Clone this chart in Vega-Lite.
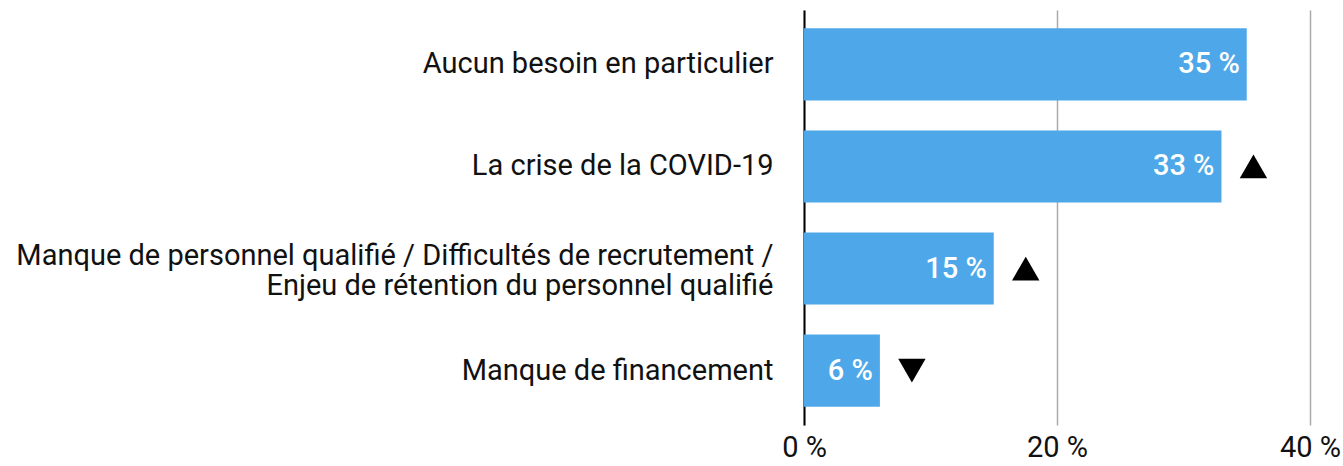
{
  "$schema": "https://vega.github.io/schema/vega-lite/v6.json",
  "width": 506,
  "height": 415,
  "autosize": {"type": "none"},
  "padding": {"left": 804, "top": 10, "right": 33, "bottom": 41},
  "background": "white",
  "config": {"view": {"stroke": null}, "font": "Roboto"},
  "data": {
    "values": [
      {"label": "Aucun besoin en particulier", "value": 35, "trend": null},
      {"label": "La crise de la COVID-19", "value": 33, "trend": "up"},
      {"label": "Manque de personnel qualifié / Difficultés de recrutement /|Enjeu de rétention du personnel qualifié", "value": 15, "trend": "up"},
      {"label": "Manque de financement", "value": 6, "trend": "down"}
    ]
  },
  "encoding": {
    "y": {
      "field": "label",
      "type": "nominal",
      "sort": null,
      "scale": {"paddingInner": 0.294, "paddingOuter": 0.18},
      "axis": {
        "title": null,
        "domainColor": "#000000",
        "domainWidth": 2,
        "ticks": false,
        "labelFontSize": 29,
        "labelColor": "#111111",
        "labelPadding": 31,
        "labelLimit": 0,
        "labelLineHeight": 30,
        "labelOffset": {"condition": {"test": "indexof(datum.value, '|') >= 0", "value": -13}, "value": 0},
        "labelExpr": "split(datum.value, '|')"
      }
    },
    "x": {
      "field": "value",
      "type": "quantitative",
      "scale": {"domain": [0, 40], "nice": false},
      "axis": {
        "title": null,
        "grid": true,
        "gridColor": "#aaaaaa",
        "gridWidth": 1.5,
        "domain": false,
        "ticks": false,
        "values": [0, 20, 40],
        "labelFlush": false,
        "labelFontSize": 29,
        "labelColor": "#111111",
        "labelPadding": 8,
        "labelExpr": "datum.value + ' %'"
      }
    }
  },
  "layer": [
    {"mark": {"type": "bar", "color": "#4ea7e9"}},
    {
      "mark": {"type": "text", "align": "right", "baseline": "middle", "dx": -7, "color": "white", "fontSize": 29, "fontWeight": 500, "text": {"expr": "datum.value + ' %'"}}
    },
    {
      "transform": [{"filter": "datum.trend != null"}],
      "mark": {"type": "point", "filled": true, "color": "black", "opacity": 1, "size": 750, "xOffset": 32},
      "encoding": {
        "shape": {"field": "trend", "type": "nominal", "scale": {"domain": ["up", "down"], "range": ["triangle-up", "triangle-down"]}, "legend": null}
      }
    }
  ]
}
